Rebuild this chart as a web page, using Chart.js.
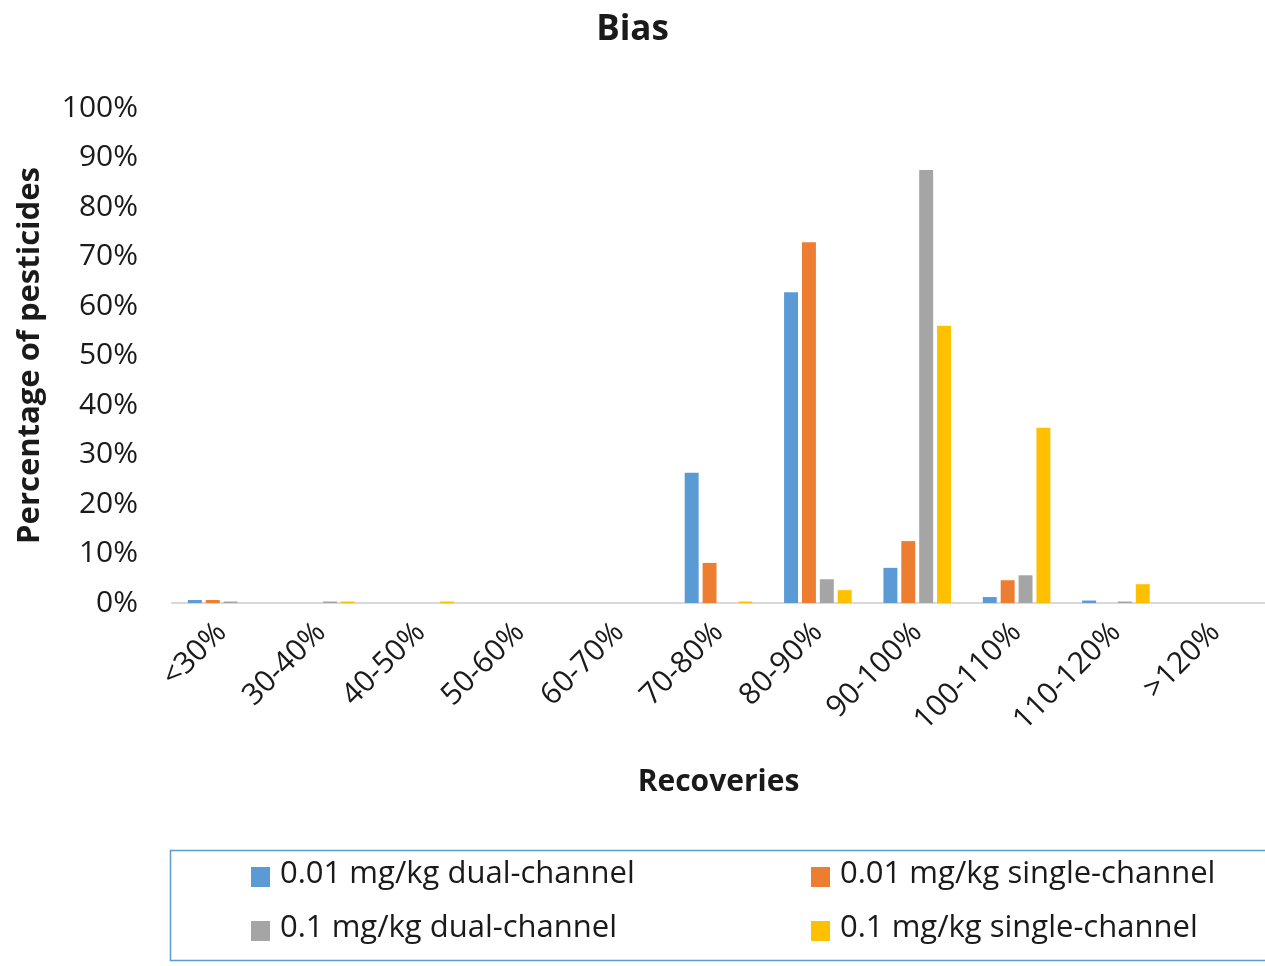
<!DOCTYPE html>
<html>
<head>
<meta charset="utf-8">
<script src="https://cdn.jsdelivr.net/npm/chart.js@4.4.1/dist/chart.umd.min.js"></script>
<style>
  html, body { margin: 0; padding: 0; background: #fff; }
  .wrap { width: 1265px; height: 966px; position: relative; }
</style>
</head>
<body>
<div class="wrap"><canvas id="bias"></canvas></div>
<script>
  // data
  var categories = ['<30%', '30-40%', '40-50%', '50-60%', '60-70%', '70-80%', '80-90%', '90-100%', '100-110%', '110-120%', '>120%'];
  var seriesNames = ['0.01 mg/kg dual-channel', '0.01 mg/kg single-channel', '0.1 mg/kg dual-channel', '0.1 mg/kg single-channel'];
  var dual001   = [0.6, 0, 0, 0, 0, 26.3, 62.8, 7.1, 1.2, 0.5, 0];
  var single001 = [0.6, 0, 0, 0, 0, 8.1, 72.9, 12.5, 4.6, 0, 0];
  var dual01    = [0.3, 0.3, 0, 0, 0, 0, 4.8, 87.5, 5.6, 0.3, 0];
  var single01  = [0, 0.3, 0.3, 0, 0, 0.3, 2.6, 56.0, 35.4, 3.8, 0];
  var colors = ['#5b9bd5', '#ed7d31', '#a5a5a5', '#ffc000'];
  var yTicks = [0, 10, 20, 30, 40, 50, 60, 70, 80, 90, 100];

  var fontFam = '"Open Sans", "Noto Sans", sans-serif';
  var txt = '#1a1a1a';

  var seriesValues = [dual001, single001, dual01, single01];
  var datasets = seriesValues.map(function (vals, i) {
    return {
      label: seriesNames[i],
      data: vals,
      backgroundColor: colors[i],
      borderWidth: 0,
      categoryPercentage: 0.72,
      barPercentage: 0.78
    };
  });

  // legend box drawn under the chart, two columns
  var boxLegend = {
    id: 'boxLegend',
    afterDraw: function (chart) {
      var ctx = chart.ctx;
      ctx.save();
      ctx.strokeStyle = '#5b9bd5';
      ctx.lineWidth = 1.5;
      ctx.strokeRect(170.5, 850.5, 1100, 110);
      ctx.font = '31px ' + fontFam;
      ctx.textBaseline = 'middle';
      chart.data.datasets.forEach(function (ds, i) {
        var x = (i % 2 === 0) ? 251 : 811;
        var y = (i < 2) ? 877 : 931;
        ctx.fillStyle = ds.backgroundColor;
        ctx.fillRect(x, y - 10, 19, 20);
        ctx.fillStyle = txt;
        ctx.fillText(ds.label, x + 29, y - 3);
      });
      ctx.restore();
    }
  };

  new Chart(document.getElementById('bias').getContext('2d'), {
    type: 'bar',
    data: { labels: categories, datasets: datasets },
    plugins: [boxLegend],
    options: {
      responsive: true,
      maintainAspectRatio: false,
      animation: false,
      layout: { padding: { left: 0, right: 0, top: 0, bottom: 166 } },
      plugins: {
        legend: { display: false },
        tooltip: { enabled: false },
        title: {
          display: true,
          text: 'Bias',
          color: txt,
          font: { family: fontFam, size: 35, weight: 'bold' },
          padding: { top: 9, bottom: 57 }
        }
      },
      scales: {
        x: {
          grid: { display: false, drawTicks: false },
          border: { display: true, color: '#d9d9d9', width: 2 },
          ticks: {
            color: txt,
            font: { family: fontFam, size: 30 },
            minRotation: 45,
            maxRotation: 45,
            padding: 12
          },
          title: {
            display: true,
            text: 'Recoveries',
            color: txt,
            font: { family: fontFam, size: 30, weight: 'bold' },
            padding: { top: 0, bottom: 0 }
          },
          afterFit: function (scale) { scale.height = 197; }
        },
        y: {
          min: 0,
          max: 100,
          afterBuildTicks: function (scale) {
            scale.ticks = yTicks.map(function (v) { return { value: v }; });
          },
          grid: { display: false, drawTicks: false },
          border: { display: false },
          ticks: {
            color: txt,
            font: { family: fontFam, size: 30 },
            padding: 34,
            callback: function (v) { return v + '%'; }
          },
          title: {
            display: true,
            text: 'Percentage of pesticides',
            color: txt,
            font: { family: fontFam, size: 31, weight: 'bold' },
            padding: { top: 12, bottom: 0 }
          },
          afterFit: function (scale) { scale.width = 172; }
        }
      }
    }
  });
</script>
</body>
</html>
